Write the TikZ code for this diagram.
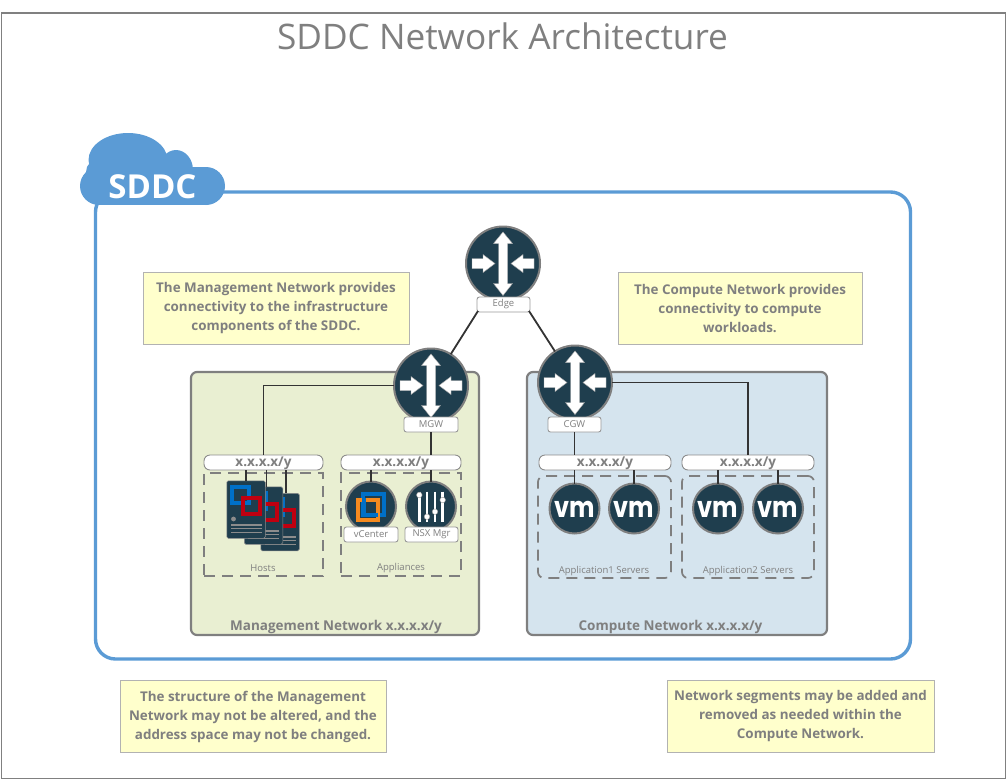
\documentclass[tikz,border=0pt]{standalone}
\usepackage{fontspec}
\setmainfont{Open Sans}
\newfontfamily\vmfont{Poppins}
\definecolor{tgrey}{HTML}{7F7F7F}
\definecolor{dark}{HTML}{1F3E4E}
\definecolor{sky}{HTML}{5B9BD5}
\definecolor{lineblack}{HTML}{333333}
\definecolor{ybox}{HTML}{FFFFCC}
\definecolor{gpanel}{HTML}{E9EFD2}
\definecolor{bpanel}{HTML}{D5E4EE}
\definecolor{vmblue}{HTML}{0070C8}
\definecolor{vmred}{HTML}{C00010}
\definecolor{vmorange}{HTML}{F58A1F}
\tikzset{
  every node/.style={inner sep=0pt,outer sep=0pt,text=tgrey},
  note/.style={draw=black!30,line width=1pt,fill=ybox,align=center,font=\fontsize{13.4}{19}\selectfont\bfseries},
  panel/.style={draw=tgrey,line width=2.2pt,rounded corners=6pt},
  iconlabel/.style={draw=black!40,line width=.9pt,fill=white,rounded corners=2.5pt,font=\fontsize{9.5}{11}\selectfont,minimum height=15pt},
  subnet/.style={draw=black!45,line width=.9pt,fill=white,rounded corners=6pt,minimum height=15pt},
  subtext/.style={font=\fontsize{13.5}{15}\selectfont\bfseries},
  dbox/.style={draw=tgrey,line width=1.7pt,dash pattern=on 11pt off 7pt},
  routerc/.style={circle,fill=dark,draw=tgrey,line width=2pt,minimum size=74pt},
  iconc/.style={circle,fill=dark,draw=tgrey,line width=2pt,minimum size=50pt},
  doc/.style={fill=dark,draw=black!45,line width=.5pt,rounded corners=1.5pt,minimum width=38.5pt,minimum height=57.5pt},
  wire/.style={draw=lineblack,line width=1.8pt},
  caption/.style={font=\fontsize{9.5}{11}\selectfont},
  netname/.style={font=\fontsize{13.5}{15}\selectfont\bfseries},
  arrowfill/.style={fill=white,draw=black!35,line width=.4pt},
  pics/routerarrows/.style={code={
    \path[arrowfill] (0,-31.5)--(9.5,-20)--(4.5,-20)--(4.5,20)--(9.5,20)--(0,32)--(-9.5,20)--(-4.5,20)--(-4.5,-20)--(-9.5,-20)--cycle;
    \path[arrowfill] (-31,-5)--(-20,-5)--(-20,-9)--(-8,0)--(-20,9)--(-20,5)--(-31,5)--cycle;
    \path[arrowfill] (31,-5)--(20,-5)--(20,-9)--(8,0)--(20,9)--(20,5)--(31,5)--cycle;
  }},
  pics/hosticon/.style={code={
    \draw[vmblue,line width=3.2pt] (5,6)rectangle(22,22);
    \draw[vmred,line width=3.2pt] (16,17)rectangle(33,33);
    \fill[black!45] (6.5,38) circle (2.4);
    \draw[black!45,line width=1.1pt] (4,44)--(34.5,44) (4,47.5)--(34.5,47.5) (4,51.5)--(34.5,51.5);
  }},
}
\begin{document}
\begin{tikzpicture}[x=1pt,y=-1pt]
\useasboundingbox (0,0) rectangle (1007,780);
\node[draw=black!50,line width=1.2pt,minimum width=1004pt,minimum height=765.5pt] (frame) at (503.5,395.8) {};
\node[font=\fontsize{35.2}{38}\selectfont,text=tgrey] (title) at (502.5,36) {SDDC Network Architecture};
% main container
\node[draw=sky,line width=3.4pt,rounded corners=20pt,minimum width=815pt,minimum height=467pt] (sddcbox) at (503,425.5) {};
% cloud
\fill[sky] (99,167) rectangle (206,205);
\fill[sky] (99,186) circle (19);
\fill[sky] (206,186) circle (19);
\fill[sky] (128,160) ellipse (39.5 and 27);
\fill[sky] (176,170) ellipse (17 and 20);
\fill[sky] (99,172) circle (13);
\node[font=\fontsize{33}{36}\selectfont\bfseries,text=white] (sddc) at (152.5,187) {SDDC};
% panels
\node[panel,fill=gpanel,minimum width=288pt,minimum height=263pt] (mgmtpanel) at (335,503.5) {};
\node[panel,fill=bpanel,minimum width=300pt,minimum height=263pt] (comppanel) at (677,503.5) {};
\node[netname] (mgmtname) at (336,627) {Management Network x.x.x.x/y};
\node[netname] (compname) at (670.5,627) {Compute Network x.x.x.x/y};
% notes
\node[note,minimum width=266pt,minimum height=72pt] (n1) at (276,308.5) {The Management Network provides\\connectivity to the infrastructure\\components of the SDDC.};
\node[note,minimum width=244pt,minimum height=72pt] (n2) at (740,308.5) {The Compute Network provides\\connectivity to compute\\workloads.};
\node[note,minimum width=266pt,minimum height=72pt] (n3) at (253,716.5) {The structure of the Management\\Network may not be altered, and the\\address space may not be changed.};
\node[note,minimum width=267pt,minimum height=72pt] (n4) at (800.5,716.5) {Network segments may be added and\\removed as needed within the\\Compute Network.};
% dashed groups
\node[dbox,minimum width=119pt,minimum height=103pt] (hostsbox) at (263.5,524.5) {};
\node[dbox,minimum width=120pt,minimum height=103pt] (appbox) at (401,524.5) {};
\node[dbox,rounded corners=6pt,minimum width=133pt,minimum height=102pt] (app1box) at (604.5,527) {};
\node[dbox,rounded corners=6pt,minimum width=132pt,minimum height=102pt] (app2box) at (748,527) {};
\node[caption] (hostscap) at (263,568) {Hosts};
\node[caption] (appcap) at (401,568) {Appliances};
\node[caption] (app1cap) at (604,571.5) {Application1 Servers};
\node[caption] (app2cap) at (748,571.5) {Application2 Servers};
% subnets
\node[subnet,minimum width=119pt] (s1) at (263.5,462.5) {};
\node[subtext] at (263.5,463.5) {x.x.x.x/y};
\node[subnet,minimum width=120pt] (s2) at (401,462.5) {};
\node[subtext] at (401,463.5) {x.x.x.x/y};
\node[subnet,minimum width=132pt] (s3) at (605,462.5) {};
\node[subtext] at (605,463.5) {x.x.x.x/y};
\node[subnet,minimum width=132pt] (s4) at (748,462.5) {};
\node[subtext] at (748,463.5) {x.x.x.x/y};
% routers
\node[routerc] (edge) at (503,263.5) {};
\pic at (503,263.5) {routerarrows};
\node[iconlabel,minimum width=53pt] (edgel) at (503.5,304.5) {Edge};
\node[routerc] (mgw) at (431,385.5) {};
\pic at (431,385.5) {routerarrows};
\node[iconlabel,minimum width=54pt] (mgwl) at (431,424.5) {MGW};
\node[routerc] (cgw) at (575,382.5) {};
\pic at (575,382.5) {routerarrows};
\node[iconlabel,minimum width=53pt] (cgwl) at (574.5,424.5) {CGW};
% hosts
\node[doc] (d3) at (280,522) {};
\pic at (261,493) {hosticon};
\node[doc] (d2) at (263.5,515.5) {};
\pic at (244,487) {hosticon};
\node[doc] (d1) at (246,509.5) {};
\pic at (227,481) {hosticon};
% appliances
\node[iconc] (vc) at (371,506.5) {};
\draw[vmblue,line width=4pt] (363,494)rectangle(384,514.5);
\draw[vmorange,line width=4pt] (358,499.5)rectangle(378,520);
\draw[vmblue,line width=4pt] (364,498)--(364,514.5)--(378,514.5);
\node[iconc] (nsx) at (431,506.5) {};
\foreach \xx/\yy in {419.3/495,427/516.7,435/511.7,442.7/500}{
  \draw[white,line width=2.6pt] (\xx,491.5)--(\xx,522);
  \fill[white,draw=black!40,line width=.4pt] (\xx,\yy) circle (2.8);
}
\node[iconlabel,minimum width=54pt] (vcl) at (371,534.5) {vCenter};
\node[iconlabel,minimum width=53pt] (nsxl) at (431.5,534.5) {NSX Mgr};
% vms
\foreach \nm/\xx in {vm1/574.5,vm2/634,vm3/718,vm4/778}{
  \node[iconc] (\nm) at (\xx,508.5) {};
  \node[text=white,yscale=1.2,font=\fontsize{24}{24}\selectfont\vmfont\bfseries] at (\xx,509) {vm};
}
% connectors
\draw[wire] (edgel.south west)++(1,-1) -- (mgw);
\draw[wire] (edgel.south east)++(-1,-1) -- (cgw);
\draw[wire] (mgw.west) -| (s1.north);
\draw[wire] (mgwl.south) -- (mgwl.south |- s2.north);
\draw[wire] (cgwl.south) -- (cgwl.south |- s3.north);
\draw[wire] (cgw.east) -| (s4.north);
\draw[wire] (s1.south -| d1.north) -- (d1.north);
\draw[wire] ([xshift=3pt]s1.south -| d2.north) -- ([xshift=3pt]d2.north);
\draw[wire] ([xshift=6pt]s1.south -| d3.north) -- ([xshift=6pt]d3.north);
\draw[wire] (s2.south -| vc.north) -- (vc.north);
\draw[wire] (s2.south -| nsx.north) -- (nsx.north);
\draw[wire] (s3.south -| vm1.north) -- (vm1.north);
\draw[wire] (s3.south -| vm2.north) -- (vm2.north);
\draw[wire] (s4.south -| vm3.north) -- (vm3.north);
\draw[wire] (s4.south -| vm4.north) -- (vm4.north);
\end{tikzpicture}
\end{document}
